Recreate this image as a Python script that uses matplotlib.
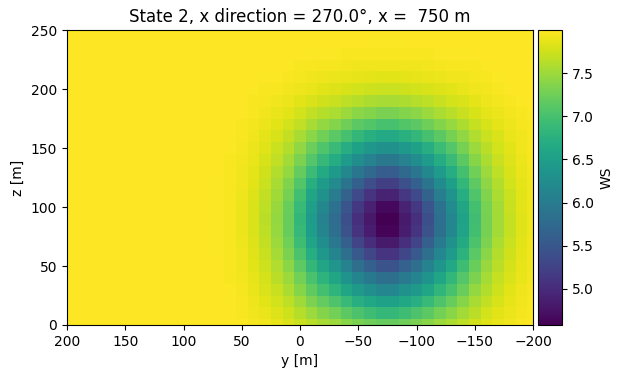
import numpy as np
import matplotlib
matplotlib.use("Agg")
import matplotlib.pyplot as plt

# free stream wind speed (left part of the plane, y = 200 .. 90)
free_ws = 8.0

# grid cell centres
y_grid = np.arange(200, -201, -10)     # 41 columns, 200 .. -200
z_grid = np.arange(0, 251, 10)         # 26 rows, 0 .. 250

# columns of the wake block: y = 80, 70, ..., -200
wake_y = [80, 70, 60, 50, 40, 30, 20, 10, 0, -10, -20, -30, -40, -50, -60,
          -70, -80, -90, -100, -110, -120, -130, -140, -150, -160, -170,
          -180, -190, -200]

# wind speed in the wake block, one row per height z = 0 .. 240
ws_z0 = [8.00, 8.00, 7.99, 7.98, 7.95, 7.92, 7.87, 7.81, 7.73, 7.64, 7.55, 7.48, 7.39, 7.31, 7.24,
         7.19, 7.19, 7.25, 7.31, 7.39, 7.48, 7.57, 7.66, 7.75, 7.83, 7.89, 7.93, 7.96, 7.98]
ws_z10 = [8.00, 7.99, 7.99, 7.97, 7.93, 7.88, 7.82, 7.74, 7.62, 7.49, 7.37, 7.27, 7.14, 7.03, 6.94,
          6.86, 6.86, 6.94, 7.03, 7.14, 7.27, 7.39, 7.52, 7.65, 7.76, 7.84, 7.90, 7.94, 7.97]
ws_z20 = [7.99, 7.99, 7.98, 7.96, 7.91, 7.85, 7.76, 7.66, 7.51, 7.33, 7.18, 7.05, 6.88, 6.73, 6.62,
          6.52, 6.52, 6.62, 6.73, 6.88, 7.05, 7.20, 7.38, 7.55, 7.69, 7.79, 7.87, 7.93, 7.96]
ws_z30 = [7.99, 7.99, 7.98, 7.95, 7.89, 7.81, 7.71, 7.57, 7.38, 7.17, 6.98, 6.81, 6.61, 6.42, 6.28,
          6.15, 6.15, 6.29, 6.42, 6.61, 6.82, 7.01, 7.22, 7.44, 7.61, 7.74, 7.84, 7.91, 7.95]
ws_z40 = [7.99, 7.99, 7.97, 7.94, 7.87, 7.78, 7.65, 7.49, 7.27, 7.02, 6.79, 6.59, 6.35, 6.13, 5.96,
          5.81, 5.81, 5.97, 6.13, 6.35, 6.60, 6.83, 7.08, 7.33, 7.54, 7.70, 7.81, 7.89, 7.94]
ws_z50 = [7.99, 7.99, 7.97, 7.93, 7.85, 7.74, 7.59, 7.41, 7.15, 6.85, 6.59, 6.36, 6.08, 5.82, 5.62,
          5.45, 5.45, 5.63, 5.82, 6.08, 6.37, 6.63, 6.93, 7.22, 7.47, 7.64, 7.78, 7.87, 7.93]
ws_z60 = [7.99, 7.98, 7.96, 7.92, 7.83, 7.71, 7.54, 7.33, 7.03, 6.70, 6.40, 6.14, 5.82, 5.52, 5.30,
          5.10, 5.10, 5.31, 5.52, 5.82, 6.15, 6.45, 6.78, 7.12, 7.40, 7.60, 7.75, 7.86, 7.92]
ws_z70 = [7.99, 7.98, 7.96, 7.91, 7.82, 7.68, 7.49, 7.26, 6.94, 6.57, 6.24, 5.95, 5.60, 5.27, 5.02,
          4.82, 4.82, 5.04, 5.27, 5.60, 5.97, 6.29, 6.66, 7.03, 7.33, 7.56, 7.72, 7.84, 7.92]
ws_z80 = [7.99, 7.98, 7.96, 7.90, 7.80, 7.66, 7.46, 7.21, 6.87, 6.47, 6.13, 5.81, 5.44, 5.09, 4.84,
          4.62, 4.62, 4.86, 5.09, 5.44, 5.83, 6.18, 6.57, 6.97, 7.29, 7.53, 7.70, 7.83, 7.91]
ws_z90 = [7.99, 7.98, 7.96, 7.90, 7.80, 7.65, 7.45, 7.20, 6.85, 6.45, 6.10, 5.78, 5.40, 5.06, 4.80,
          4.58, 4.58, 4.82, 5.06, 5.40, 5.80, 6.15, 6.55, 6.95, 7.28, 7.52, 7.70, 7.83, 7.91]
ws_z100 = [7.99, 7.98, 7.96, 7.90, 7.81, 7.66, 7.47, 7.22, 6.88, 6.50, 6.16, 5.85, 5.48, 5.14, 4.89,
           4.66, 4.66, 4.91, 5.14, 5.48, 5.87, 6.21, 6.59, 6.98, 7.30, 7.53, 7.71, 7.84, 7.91]
ws_z110 = [7.99, 7.98, 7.96, 7.91, 7.82, 7.69, 7.51, 7.28, 6.97, 6.61, 6.29, 6.00, 5.66, 5.35, 5.10,
           4.91, 4.91, 5.12, 5.35, 5.66, 6.02, 6.34, 6.70, 7.06, 7.35, 7.57, 7.73, 7.85, 7.92]
ws_z120 = [7.99, 7.98, 7.96, 7.92, 7.84, 7.72, 7.55, 7.35, 7.07, 6.74, 6.46, 6.20, 5.89, 5.61, 5.39,
           5.21, 5.21, 5.41, 5.61, 5.89, 6.22, 6.50, 6.83, 7.15, 7.42, 7.61, 7.76, 7.86, 7.93]
ws_z130 = [7.99, 7.99, 7.97, 7.93, 7.86, 7.75, 7.61, 7.44, 7.19, 6.91, 6.66, 6.43, 6.17, 5.92, 5.73,
           5.57, 5.57, 5.74, 5.92, 6.17, 6.45, 6.70, 6.98, 7.26, 7.49, 7.66, 7.79, 7.88, 7.94]
ws_z140 = [7.99, 7.99, 7.97, 7.94, 7.88, 7.79, 7.67, 7.52, 7.32, 7.08, 6.87, 6.68, 6.45, 6.24, 6.08,
           5.95, 5.95, 6.10, 6.24, 6.45, 6.69, 6.90, 7.14, 7.38, 7.57, 7.71, 7.82, 7.90, 7.95]
ws_z150 = [7.99, 7.99, 7.98, 7.95, 7.90, 7.83, 7.73, 7.60, 7.43, 7.23, 7.06, 6.90, 6.71, 6.54, 6.41,
           6.29, 6.29, 6.42, 6.54, 6.71, 6.91, 7.08, 7.28, 7.48, 7.64, 7.76, 7.85, 7.92, 7.96]
ws_z160 = [7.99, 7.99, 7.98, 7.96, 7.92, 7.86, 7.79, 7.69, 7.55, 7.40, 7.26, 7.13, 6.99, 6.85, 6.74,
           6.65, 6.65, 6.75, 6.85, 6.99, 7.14, 7.28, 7.43, 7.59, 7.72, 7.81, 7.88, 7.93, 7.96]
ws_z170 = [8.00, 7.99, 7.99, 7.97, 7.94, 7.90, 7.84, 7.77, 7.67, 7.55, 7.45, 7.36, 7.25, 7.14, 7.07,
           7.00, 7.00, 7.07, 7.14, 7.25, 7.36, 7.46, 7.58, 7.70, 7.79, 7.86, 7.91, 7.95, 7.97]
ws_z180 = [8.00, 8.00, 7.99, 7.98, 7.96, 7.93, 7.89, 7.84, 7.77, 7.69, 7.62, 7.56, 7.48, 7.41, 7.36,
           7.31, 7.31, 7.36, 7.41, 7.48, 7.56, 7.63, 7.71, 7.79, 7.86, 7.90, 7.94, 7.97, 7.98]
ws_z190 = [8.00, 8.00, 7.99, 7.99, 7.97, 7.95, 7.93, 7.90, 7.85, 7.80, 7.75, 7.71, 7.66, 7.62, 7.58,
           7.55, 7.55, 7.58, 7.62, 7.66, 7.71, 7.76, 7.81, 7.86, 7.91, 7.94, 7.96, 7.98, 7.99]
ws_z200 = [8.00, 8.00, 8.00, 7.99, 7.98, 7.97, 7.96, 7.94, 7.91, 7.88, 7.85, 7.82, 7.79, 7.76, 7.74,
           7.72, 7.72, 7.74, 7.76, 7.79, 7.82, 7.85, 7.88, 7.92, 7.94, 7.96, 7.98, 7.99, 7.99]
ws_z210 = [8.00, 8.00, 8.00, 8.00, 7.99, 7.98, 7.98, 7.96, 7.95, 7.93, 7.91, 7.90, 7.88, 7.87, 7.86,
           7.84, 7.84, 7.86, 7.87, 7.88, 7.90, 7.92, 7.93, 7.95, 7.97, 7.98, 7.99, 7.99, 8.00]
ws_z220 = [8.00, 8.00, 8.00, 8.00, 7.99, 7.99, 7.99, 7.98, 7.97, 7.96, 7.95, 7.95, 7.94, 7.93, 7.92,
           7.92, 7.92, 7.92, 7.93, 7.94, 7.95, 7.96, 7.97, 7.97, 7.98, 7.99, 7.99, 8.00, 8.00]
ws_z230 = [8.00, 8.00, 8.00, 8.00, 8.00, 8.00, 7.99, 7.99, 7.99, 7.98, 7.98, 7.98, 7.97, 7.97, 7.96,
           7.96, 7.96, 7.96, 7.97, 7.97, 7.98, 7.98, 7.98, 7.99, 7.99, 7.99, 8.00, 8.00, 8.00]
ws_z240 = [8.00, 8.00, 8.00, 8.00, 8.00, 8.00, 8.00, 8.00, 7.99, 7.99, 7.99, 7.99, 7.99, 7.99, 7.98,
           7.98, 7.98, 7.98, 7.99, 7.99, 7.99, 7.99, 7.99, 7.99, 8.00, 8.00, 8.00, 8.00, 8.00]

wake_rows = [ws_z0, ws_z10, ws_z20, ws_z30, ws_z40, ws_z50, ws_z60, ws_z70, ws_z80,
             ws_z90, ws_z100, ws_z110, ws_z120, ws_z130, ws_z140, ws_z150, ws_z160,
             ws_z170, ws_z180, ws_z190, ws_z200, ws_z210, ws_z220, ws_z230, ws_z240]

# full plane: free stream everywhere, wake block pasted in
WS = np.full((len(z_grid), len(y_grid)), free_ws)
col0 = list(y_grid).index(wake_y[0])
WS[:len(wake_rows), col0:col0 + len(wake_y)] = np.array(wake_rows)

fig = plt.figure(figsize=(6.22, 3.77), dpi=100)
ax = fig.add_axes([67 / 622, 52 / 377, 466 / 622, 295 / 377])
cax = fig.add_axes([538 / 622, 52 / 377, 24 / 622, 295 / 377])

pcm = ax.pcolormesh(y_grid, z_grid, WS, shading='nearest', cmap='viridis')
ax.set_xlim(200, -200)
ax.set_ylim(0, 250)
ax.set_xticks([200, 150, 100, 50, 0, -50, -100, -150, -200])
ax.set_yticks([0, 50, 100, 150, 200, 250])
ax.set_xlabel('y [m]')
ax.set_ylabel('z [m]')
ax.set_title('State 2, x direction = 270.0°, x =  750 m')

cb = fig.colorbar(pcm, cax=cax)
cb.set_label('WS')
cb.set_ticks([5.0, 5.5, 6.0, 6.5, 7.0, 7.5])

fig.savefig('out.png', dpi=100)
